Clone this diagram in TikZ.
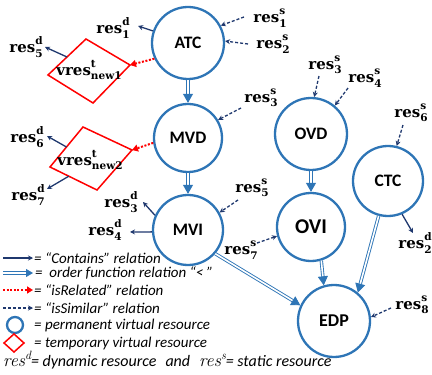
\documentclass[tikz,border=0pt]{standalone}
\usepackage{fontspec}
\newfontfamily\carl{Carlito}
\newfontfamily\dser{DejaVu Serif}
\usetikzlibrary{arrows.meta,calc}
\definecolor{cblue}{RGB}{46,117,182}
\definecolor{navy}{RGB}{31,56,110}
\newcommand{\sm}{\fontsize{10.5}{10.5}\selectfont}
\newcommand{\rsd}[2]{\dser\bfseries res\makebox[0pt][l]{\raisebox{1.0ex}{\sm #2}}\raisebox{-0.6ex}{\sm #1}}
\newcommand{\vrs}[1]{\dser\bfseries vres\makebox[0pt][l]{\raisebox{1.0ex}{\sm t}}\raisebox{-0.6ex}{\sm #1}}
\begin{document}
\begin{tikzpicture}[x=1pt,y=-1pt,
  lab/.style={inner sep=0.5pt, font=\fontsize{15}{17}\selectfont},
  circ/.style={circle, draw=cblue, line width=2.3pt, minimum size=70pt, inner sep=0pt, font=\carl\bfseries\fontsize{17.5}{20}\selectfont},
  contains/.style={navy, line width=1.3pt, -{Stealth[length=5pt,width=5pt]}},
  similar/.style={navy, line width=1.3pt, dash pattern=on 3pt off 2pt, -{Stealth[length=5pt,width=5pt]}},
  related/.style={red, line width=2pt, dash pattern=on 2pt off 1.6pt, -{Triangle[length=6pt,width=7pt]}},
  order/.style={cblue, double=white, double distance=1.6pt, line width=0.9pt, -{Triangle[length=9pt,width=10pt]}},
  dia/.style={draw=red, line width=1.5pt, line join=miter},
  legtxt/.style={anchor=west, inner sep=0pt, font=\carl\itshape\fontsize{15}{17}\selectfont}]
\useasboundingbox (0,0) rectangle (432,375);

% circles
\node[circ, minimum size=72pt] (ATC) at (188,43) {ATC};
\node[circ, minimum size=68pt] (MVD) at (188,138) {MVD};
\node[circ] (MVI) at (188,230) {MVI};
\node[circ, minimum size=72pt] (OVD) at (311,134) {OVD};
\node[circ, minimum size=68pt, font=\carl\bfseries\fontsize{21}{24}\selectfont] (OVI) at (311,227) {OVI};
\node[circ] (CTC) at (388,181) {CTC};
\node[circ, minimum size=72pt, font=\carl\bfseries\fontsize{18}{21}\selectfont] (EDP) at (334,321) {EDP};

% diamonds
\coordinate (d1l) at (48,75); \coordinate (d1t) at (86,39);
\coordinate (d1r) at (130,65); \coordinate (d1b) at (93,103);
\draw[dia] (d1l) -- (d1t) -- (d1r) -- (d1b) -- cycle;
\node[lab] (v1) at (89,70) {\vrs{new1}};
\coordinate (d2l) at (50,167); \coordinate (d2t) at (83,127);
\coordinate (d2r) at (132,150); \coordinate (d2b) at (97,190);
\draw[dia] (d2l) -- (d2t) -- (d2r) -- (d2b) -- cycle;
\node[lab] (v2) at (90,160) {\vrs{new2}};

% labels
\node[lab] (r1d) at (113,28) {\rsd{1}{d}};
\node[lab] (r5d) at (26,47) {\rsd{5}{d}};
\node[lab] (r1s) at (270,18) {\rsd{1}{s}};
\node[lab] (r2s) at (273,44) {\rsd{2}{s}};
\node[lab] (r3sa) at (261,98) {\rsd{3}{s}};
\node[lab] (r3sb) at (325,65) {\rsd{3}{s}};
\node[lab] (r4s) at (365,78) {\rsd{4}{s}};
\node[lab] (r6s) at (411,113) {\rsd{6}{s}};
\node[lab] (r2d) at (415,243) {\rsd{2}{d}};
\node[lab] (r8s) at (412,305) {\rsd{8}{s}};
\node[lab] (r5s) at (252,188) {\rsd{5}{s}};
\node[lab] (r7s) at (241,250) {\rsd{7}{s}};
\node[lab] (r3d) at (121,202) {\rsd{3}{d}};
\node[lab] (r4d) at (105,230) {\rsd{4}{d}};
\node[lab] (r6d) at (27,137) {\rsd{6}{d}};
\node[lab] (r7d) at (28,195) {\rsd{7}{d}};

% connector end points near labels
\coordinate (c1) at (138,26);
\coordinate (c2) at (45,47);
\coordinate (c4) at (244,17);
\coordinate (c5) at (248,44);
\coordinate (c7) at (241,108);
\coordinate (c9) at (47,136);
\coordinate (c10) at (47,189);
\coordinate (c11) at (143,202);
\coordinate (c12) at (130,232);
\coordinate (c14) at (238,200);
\coordinate (c15) at (257,243);
\coordinate (c16) at (319,76);
\coordinate (c17) at (348,88);
\coordinate (c19) at (403,125);
\coordinate (c20) at (413,233);
\coordinate (c24) at (391,308);
\coordinate (d1m) at ($(d1l)!0.5!(d1t)$);
\coordinate (d2m) at ($(d2l)!0.5!(d2t)$);
\coordinate (d2n) at ($(d2l)!0.4!(d2b)$);

% contains
\draw[contains] (ATC.161) -- (c1);
\draw[contains] (d1m) -- (c2);
\draw[contains] (d2m) -- (c9);
\draw[contains] (d2n) -- (c10);
\draw[contains] (MVI.156) -- (c11);
\draw[contains] (MVI.183) -- (c12);
\draw[contains] (CTC.293) -- (c20);
% similar
\draw[similar] (c4) -- (ATC.28);
\draw[similar] (c5) -- (ATC.3);
\draw[similar] (c7) -- (MVD.31);
\draw[similar] (c14) -- (MVI.29);
\draw[similar] (c15) -- (OVI.195);
\draw[similar] (c16) -- (OVD.85);
\draw[similar] (c17) -- (OVD.50);
\draw[similar] (c19) -- (CTC.76);
\draw[similar] (c24) -- (EDP.6);
% related
\draw[related] (ATC.205) -- (d1r);
\draw[related] (MVD.188) -- (d2r);
% order
\draw[order] (ATC.south) -- (MVD.north);
\draw[order] (MVD.south) -- (MVI.north);
\draw[order] (OVD.south) -- (OVI.north);
\draw[order] (OVI.287) -- (EDP.106);
\draw[order] (CTC.255) -- (EDP.50);
\draw[order] (MVI.319) -- (EDP.155);

% legend
\coordinate (l1a) at (3,258); \coordinate (l1b) at (33,258);
\draw[contains] (l1a) -- (l1b);
\node[legtxt] (t1) at (34,258) {= “Contains” relation};
\coordinate (l2a) at (3,273); \coordinate (l2b) at (33,273);
\draw[order, -{Triangle[length=7pt,width=8pt]}] (l2a) -- (l2b);
\node[legtxt] (t2) at (35,273) {=~~order function relation “<~”};
\coordinate (l3a) at (3,290); \coordinate (l3b) at (33,290);
\draw[related] (l3a) -- (l3b);
\node[legtxt] (t3) at (34,290) {= “isRelated” relation};
\coordinate (l4a) at (3,308); \coordinate (l4b) at (33,308);
\draw[similar] (l4a) -- (l4b);
\node[legtxt] (t4) at (34,308) {= “isSimilar” relation};
\node[circle, draw=cblue, line width=2.3pt, minimum size=16pt, inner sep=0pt] (lc) at (15,325) {};
\node[legtxt] (t5) at (34,325) {= permanent virtual resource};
\coordinate (ld1) at (4,343); \coordinate (ld2) at (14,334);
\coordinate (ld3) at (24,343); \coordinate (ld4) at (14,352);
\draw[dia] (ld1) -- (ld2) -- (ld3) -- (ld4) -- cycle;
\node[legtxt] (t6) at (34,343) {= temporary virtual resource};
\node[legtxt, font=\carl\itshape\fontsize{16}{18}\selectfont] (t7) at (3,360) {{\rmfamily\fontsize{18}{20}\selectfont res\raisebox{0.9ex}{\fontsize{12}{12}\selectfont d}}= dynamic resource\hspace{9pt}and\hspace{9pt}{\rmfamily\fontsize{18}{20}\selectfont res\raisebox{0.9ex}{\fontsize{12}{12}\selectfont s}}= static resource};
\end{tikzpicture}
\end{document}
